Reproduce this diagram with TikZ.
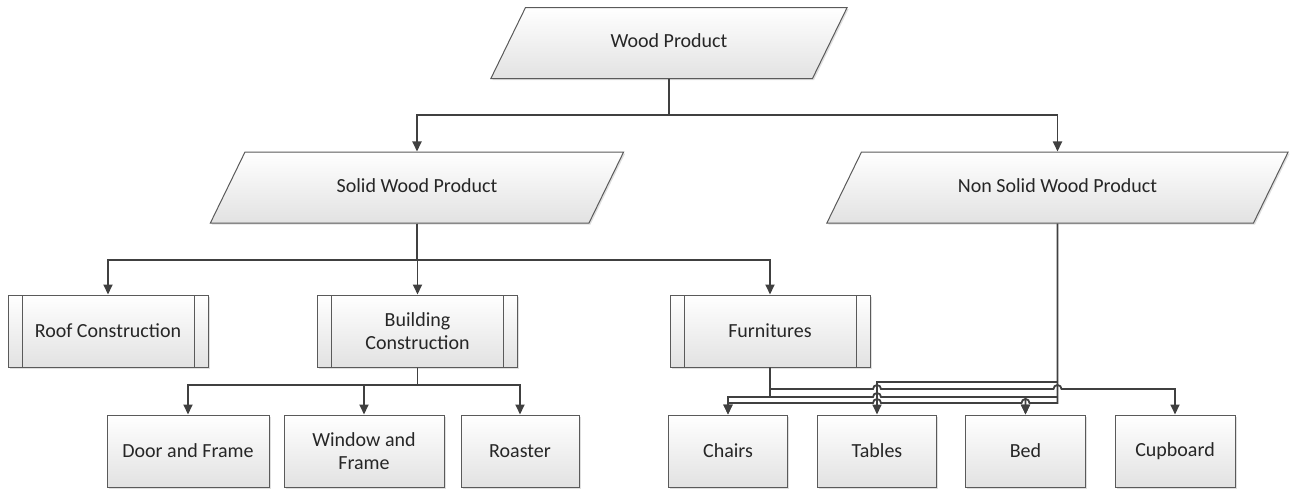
\documentclass[tikz,border=0pt]{standalone}
\usepackage{fontspec}
\setmainfont{Carlito}
\usetikzlibrary{arrows.meta, positioning, shapes.geometric, calc, shadows}
\definecolor{lineg}{HTML}{404040}
\definecolor{edgeg}{HTML}{5A5A5A}
\definecolor{fillg}{HTML}{E2E2E2}

\begin{document}
\begin{tikzpicture}[
        x=1pt, y=-1pt,
        every node/.style={font=\fontsize{20}{23}\selectfont, text=black!85},
        shaded/.style={draw=edgeg, line width=1pt, top color=white, bottom color=fillg,
            drop shadow={shadow xshift=1.5pt, shadow yshift=-1.5pt, opacity=0.25}},
        para/.style={shaded, trapezium, trapezium left angle=64, trapezium right angle=116,
            inner xsep=0pt, inner ysep=26.5pt, text height=13.5pt, text depth=4.5pt, align=flush center},
        proc/.style={shaded, rectangle, minimum width=200, minimum height=72, align=center,
            path picture={\draw[edgeg, line width=1pt]
                ([xshift=14pt]path picture bounding box.north west) -- ([xshift=14pt]path picture bounding box.south west)
                ([xshift=-14pt]path picture bounding box.north east) -- ([xshift=-14pt]path picture bounding box.south east);}},
        item/.style={shaded, rectangle, minimum height=72, align=center},
        conn/.style={draw=lineg, line width=1.8pt, -{Triangle[length=10pt, width=9pt]}}
    ]
        \useasboundingbox (0,0) rectangle (1290,488);

        % top levels
        \node[para, text width=287pt] (wood) at (669,43) {Wood Product};
        \node[para, text width=344pt] (solid) at (417,187.5) {Solid Wood Product};
        \node[para, text width=392pt] (nsolid) at (1057.5,187.5) {Non Solid Wood Product};

        \node[proc] (roof) at (108,331) {Roof Construction};
        \node[proc] (build) at (417.5,331) {Building\\Construction};
        \node[proc] (furn) at (770,331) {Furnitures};

        % leaves
        \node[item, minimum width=162] (door) at (188,451) {Door and Frame};
        \node[item, minimum width=160] (window) at (364,451) {Window and\\Frame};
        \node[item, minimum width=118] (roaster) at (520,451) {Roaster};
        \node[item, minimum width=119] (chairs) at (728,451) {Chairs};
        \node[item, minimum width=119] (tables) at (877,451) {Tables};
        \node[item, minimum width=120] (bed) at (1025.5,451) {Bed};
        \node[item, minimum width=120] (cupboard) at (1175,451) {Cupboard};

        % bus heights
        \coordinate (busA) at (0,115);
        \coordinate (busB) at (0,260);
        \coordinate (busC) at (0,385);
        \coordinate (rN) at (0,382);
        \coordinate (rC) at (0,389);
        \coordinate (rB) at (0,397);
        \coordinate (rH) at (0,403);

        \draw[conn] (wood.south) |- (solid.north |- busA) -- (solid.north);
        \draw[conn] (wood.south) |- (nsolid.north |- busA) -- (nsolid.north);

        \draw[conn] (solid.south) |- (roof.north |- busB) -- (roof.north);
        \draw[conn] (solid.south) |- (build.north |- busB) -- (build.north);
        \draw[conn] (solid.south) |- (furn.north |- busB) -- (furn.north);

        \draw[conn] (build.south) |- (door.north |- busC) -- (door.north);
        \draw[conn] (build.south) |- (window.north |- busC) -- (window.north);
        \draw[conn] (build.south) |- (roaster.north |- busC) -- (roaster.north);

        % furnitures and non solid branches (with line jumps)
        \draw[conn] (nsolid.south) |- (tables.north |- rN) -- (tables.north);
        \draw[conn] (nsolid.south) |- (bed.north |- rB) -- (bed.north);
        \draw[conn] (furn.south) |- (chairs.north |- rB) -- (chairs.north);
        \draw[conn] (furn.south) |- ($(tables.north |- rC)+(-4,0)$) arc[start angle=180, end angle=0, radius=4pt]
            -- ($(nsolid.south |- rC)+(-4,0)$) arc[start angle=180, end angle=0, radius=4pt] -| (cupboard.north);
        \draw[conn] (furn.south) |- ($(tables.north |- rB)+(-4,0)$) arc[start angle=180, end angle=0, radius=4pt] -| (bed.north);
        \draw[conn] (nsolid.south) |- ($(bed.north |- rH)+(4,0)$) arc[start angle=0, end angle=180, radius=4pt]
            -- ($(tables.north |- rH)+(4,0)$) arc[start angle=0, end angle=180, radius=4pt] -| (chairs.north);
    \end{tikzpicture}
\end{document}
